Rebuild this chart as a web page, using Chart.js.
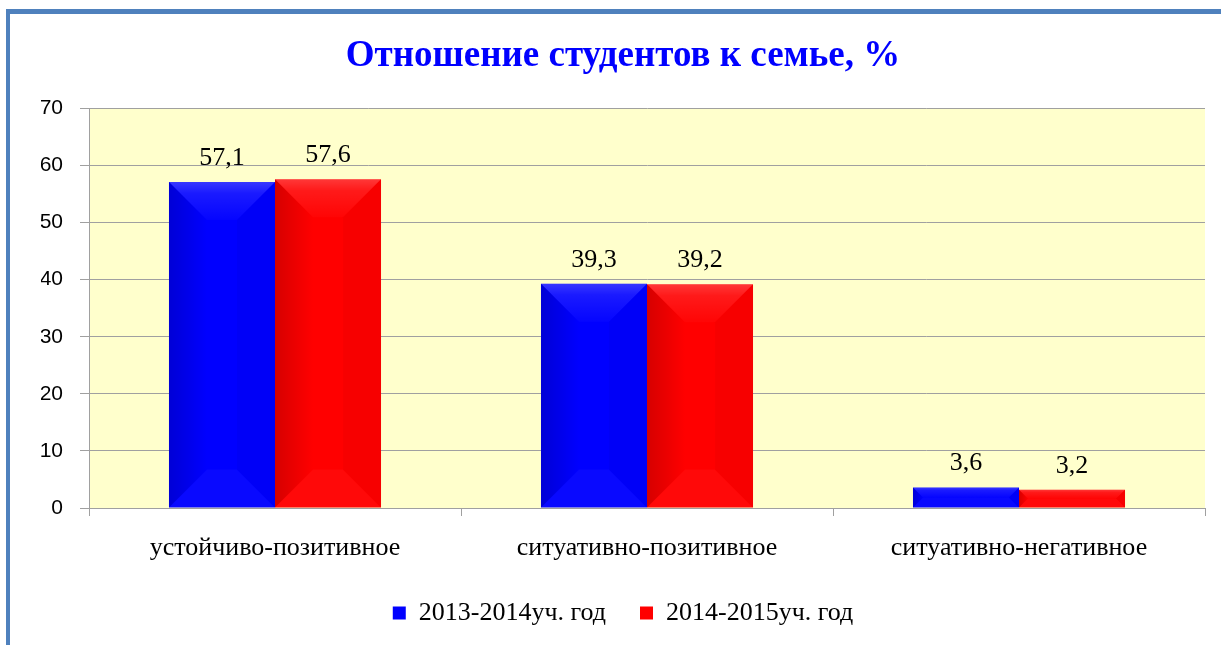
<!DOCTYPE html>
<html>
<head>
<meta charset="utf-8">
<script src="https://cdn.jsdelivr.net/npm/chart.js@4/dist/chart.umd.min.js"></script>
<style>
	body { margin: 0; background: #fff; }
	.frame { position: absolute; left: 6px; top: 9px; width: 1300px; height: 700px;
		border-top: 5px solid #4f81bd; border-left: 4px solid #4f81bd; }
	canvas { position: absolute; left: 0; top: 0; }
</style>
</head>
<body>
<div class="frame"></div>
<canvas id="graph-familia" width="1221" height="645"></canvas>
<script>
const categorias = ['устойчиво-позитивное', 'ситуативно-позитивное', 'ситуативно-негативное'];
const serie1 = [57.1, 39.3, 3.6];
const serie2 = [57.6, 39.2, 3.2];
const nomesSeries = ['2013-2014уч. год', '2014-2015уч. год'];
const titulo = 'Отношение студентов к семье, %';

// fundo amarelo da area do grafico
const fundoPlugin = {
	id: 'fundo',
	beforeDraw(chart) {
		const a = chart.chartArea;
		const ctx = chart.ctx;
		ctx.save();
		ctx.fillStyle = '#ffffcc';
		ctx.fillRect(a.left, a.top, a.right - a.left, a.bottom - a.top);
		ctx.restore();
	}
};

// efeito de chanfro nas barras + rotulos dos valores
const barrasPlugin = {
	id: 'barras',
	afterDatasetsDraw(chart) {
		const ctx = chart.ctx;
		chart.data.datasets.forEach((ds, i) => {
			const meta = chart.getDatasetMeta(i);
			meta.data.forEach((bar, j) => {
				const l = bar.x - bar.width / 2, r = bar.x + bar.width / 2;
				const t = bar.y, b = bar.base;
				const d = Math.min(38, (r - l) / 2, (b - t) / 2);
				ctx.save();
				let g = ctx.createLinearGradient(0, t, 0, t + d);
				g.addColorStop(0, 'rgba(255,255,255,0.22)');
				g.addColorStop(0.3, 'rgba(255,255,255,0.1)');
				g.addColorStop(1, 'rgba(255,255,255,0.02)');
				ctx.fillStyle = g;
				ctx.beginPath();
				ctx.moveTo(l, t); ctx.lineTo(r, t); ctx.lineTo(r - d, t + d); ctx.lineTo(l + d, t + d);
				ctx.closePath(); ctx.fill();
				g = ctx.createLinearGradient(l, 0, l + d, 0);
				g.addColorStop(0, 'rgba(0,0,0,0.16)');
				g.addColorStop(1, 'rgba(0,0,0,0)');
				ctx.fillStyle = g;
				ctx.beginPath();
				ctx.moveTo(l, t); ctx.lineTo(l + d, t + d); ctx.lineTo(l + d, b - d); ctx.lineTo(l, b);
				ctx.closePath(); ctx.fill();
				ctx.fillStyle = 'rgba(255,255,255,0.035)';
				ctx.beginPath();
				ctx.moveTo(l, b); ctx.lineTo(l + d, b - d); ctx.lineTo(r - d, b - d); ctx.lineTo(r, b);
				ctx.closePath(); ctx.fill();
				ctx.fillStyle = 'rgba(0,0,0,0.03)';
				ctx.beginPath();
				ctx.moveTo(r, t); ctx.lineTo(r - d, t + d); ctx.lineTo(r - d, b - d); ctx.lineTo(r, b);
				ctx.closePath(); ctx.fill();

				ctx.fillStyle = '#000';
				ctx.font = '26px "Liberation Serif"';
				ctx.textAlign = 'center';
				ctx.textBaseline = 'alphabetic';
				ctx.fillText(String(ds.data[j]).replace('.', ','), bar.x, t - 17);
				ctx.restore();
			});
		});
	}
};

const ctx = document.getElementById('graph-familia');
const chartGraph = new Chart(ctx, {
	type: 'bar',
	data: {
		labels: categorias,
		datasets: [{
			label: nomesSeries[0],
			data: serie1,
			backgroundColor: '#0000ff',
			borderWidth: 0
		}, {
			label: nomesSeries[1],
			data: serie2,
			backgroundColor: '#ff0000',
			borderWidth: 0
		}]
	},
	options: {
		responsive: false,
		animation: false,
		layout: { padding: { left: 41, right: 16, top: 0, bottom: 10 } },
		datasets: { bar: { categoryPercentage: 0.57, barPercentage: 1 } },
		scales: {
			x: {
				grid: { drawOnChartArea: false, drawTicks: true, tickLength: 8, color: '#a0a0a0' },
				border: { color: '#a0a0a0' },
				ticks: { color: '#000', padding: 17, font: { family: 'Liberation Serif', size: 26 } },
				afterFit(scale) { scale.height = 58; }
			},
			y: {
				min: 0, max: 70,
				ticks: { stepSize: 10, color: '#000', padding: 17, font: { family: 'Liberation Sans', size: 21 } },
				grid: { color: '#a0a0a0', tickLength: 9 },
				border: { color: '#a0a0a0' },
				afterFit(scale) { scale.width = 48; }
			}
		},
		plugins: {
			title: {
				display: true,
				text: titulo,
				color: '#0000ff',
				font: { family: 'Liberation Serif', size: 37, weight: 'bold' },
				padding: { top: 34, bottom: 30 }
			},
			legend: {
				position: 'bottom',
				maxHeight: 69,
				labels: {
					color: '#000',
					boxWidth: 13,
					boxHeight: 13,
					padding: 34,
					font: { family: 'Liberation Serif', size: 26 }
				}
			},
			tooltip: { enabled: false }
		}
	},
	plugins: [fundoPlugin, barrasPlugin]
});
</script>
</body>
</html>
